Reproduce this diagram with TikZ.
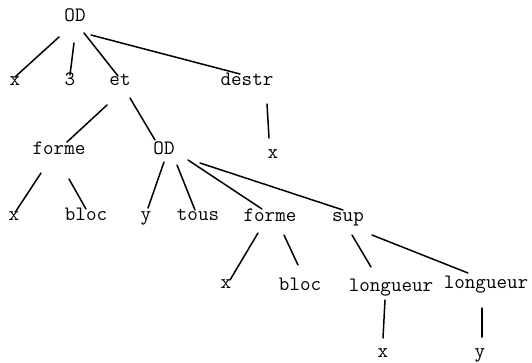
\documentclass[tikz,border=0pt]{standalone}
\begin{document}
\begin{tikzpicture}[x=1pt,y=-1pt,
  lbl/.style={font=\fontsize{20.5}{22}\selectfont\ttfamily, inner sep=0pt,
              text height=0.7em, text depth=0.2em},
  edge/.style={line width=1.5pt, line cap=round}]
\useasboundingbox (0,0) rectangle (532,362);
% labels of the tree
\node[lbl] (od)    at (75,19)   {OD};
\node[lbl] (x1)    at (15,83)   {x};
\node[lbl] (three) at (70,83)   {3};
\node[lbl] (et)    at (120,83)  {et};
\node[lbl] (destr) at (247,83)  {destr};
\node[lbl] (x2)    at (273,156) {x};
\node[lbl] (forme) at (59,152)  {forme};
\node[lbl] (odb)   at (164,152) {OD};
\node[lbl] (x3)    at (14,218)  {x};
\node[lbl] (bloc)  at (86,218)  {bloc};
\node[lbl] (y1)    at (146,218) {y};
\node[lbl] (tous)  at (198,218) {tous};
\node[lbl] (formeb) at (270,219) {forme};
\node[lbl] (sup)   at (348,219) {sup};
\node[lbl] (x4)    at (226,286) {x};
\node[lbl] (blocb) at (300,288) {bloc};
\node[lbl] (lga)   at (391,289) {longueur};
\node[lbl] (lgb)   at (486,286) {longueur};
\node[lbl] (x5)    at (383,355) {x};
\node[lbl] (y2)    at (480,355) {y};
% branches: parent, offset, child, offset
\newcommand\treeedge[6]{\draw[edge] ([shift={(#2,#3)}]#1.center) -- ([shift={(#5,#6)}]#4.center);}
\treeedge{od}{-16}{18}{x1}{0}{-6}
\treeedge{od}{-1}{24}{three}{0}{-8}
\treeedge{od}{9}{14}{et}{-2}{-7}
\treeedge{od}{16}{16}{destr}{-7}{-9}
\treeedge{et}{-13}{22}{forme}{8}{-10}
\treeedge{et}{10}{15}{odb}{-9}{-12}
\treeedge{destr}{20}{21}{x2}{-4}{-18}
\treeedge{forme}{-18}{21}{x3}{2}{-7}
\treeedge{forme}{10}{27}{bloc}{0}{-9}
\treeedge{odb}{0}{10}{y1}{2}{-10}
\treeedge{odb}{13}{13}{tous}{-3}{-8}
\treeedge{odb}{24}{8}{formeb}{-8}{-10}
\treeedge{odb}{36}{11}{sup}{-5}{-9}
\treeedge{formeb}{-12}{14}{x4}{4}{-6}
\treeedge{formeb}{14}{16}{blocb}{-2}{-23}
\treeedge{sup}{4}{16}{lga}{-20}{-22}
\treeedge{sup}{24}{16}{lgb}{-18}{-13}
\treeedge{lga}{-6}{11}{x5}{0}{-17}
\treeedge{lgb}{-4}{22}{y2}{2}{-18}
\end{tikzpicture}
\end{document}
